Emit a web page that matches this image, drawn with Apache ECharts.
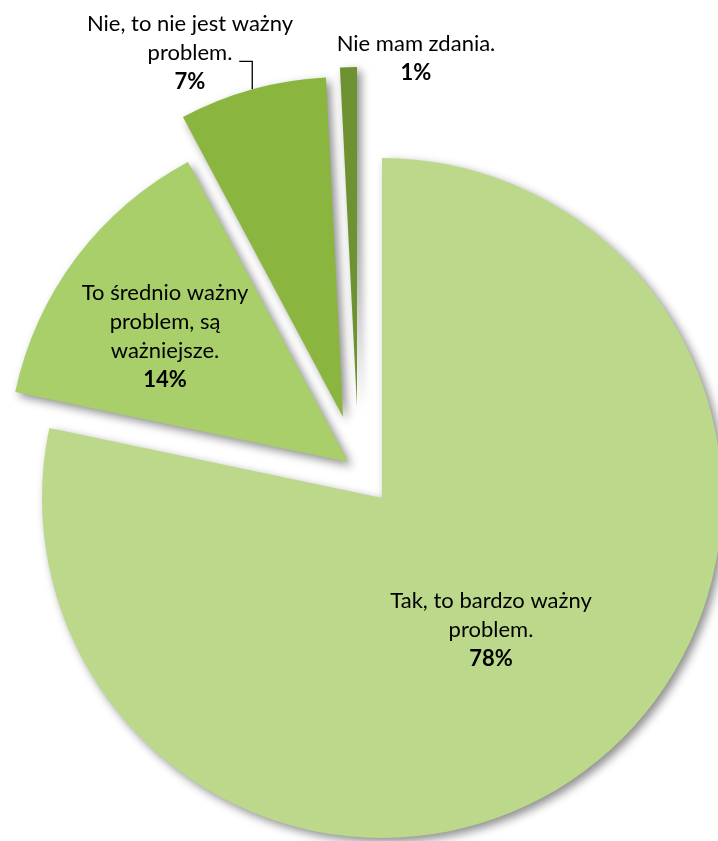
<!DOCTYPE html>
<html><head><meta charset="utf-8">
<script src="https://cdn.jsdelivr.net/npm/echarts@6/dist/echarts.min.js"></script>
<style>html,body{margin:0;padding:0;background:#fff}#c{width:718px;height:841px}</style>
</head><body><div id="c"></div>
<script>
// ---- data ----
const categories = ['Tak, to bardzo ważny\nproblem.', 'To średnio ważny\nproblem, są\nważniejsze.', 'Nie, to nie jest ważny\nproblem.', 'Nie mam zdania.'];
const values = [78.3, 13.9, 7.0, 0.8];

// ---- style / layout ----
const colors = ['#BCD88A', '#A8CF6A', '#8AB53E', '#6E9231'];
const sliceCenters = [[382, 498], [348, 462], [343, 417], [357, 407]];
const labelPos = [[491, 630], [165, 336], [190, 53], [416, 58]];
const R = 340;
const FONT = 'Lato';
const FS = 22;
const LH = 29;

const chart = echarts.init(document.getElementById('c'), null, {renderer: 'canvas'});

function makeSeries(idx) {
  const data = categories.map((name, j) => {
    if (j !== idx) {
      return {name, value: values[j], itemStyle: {color: 'rgba(0,0,0,0)'}, label: {show: false}, labelLine: {show: false}};
    }
    return {
      name, value: values[j],
      itemStyle: {color: colors[j], shadowBlur: 10, shadowOffsetX: 4, shadowOffsetY: 4, shadowColor: 'rgba(0,0,0,0.45)'},
      label: {show: true},
      labelLine: {show: idx === 2, lineStyle: {color: '#000', width: 1.3}}
    };
  });
  const lp = labelPos[idx];
  return {
    type: 'pie',
    center: sliceCenters[idx],
    radius: [0, R],
    startAngle: 90,
    clockwise: true,
    silent: true,
    animation: false,
    avoidLabelOverlap: false,
    emphasis: {disabled: true},
    itemStyle: {borderWidth: 0},
    label: {
      position: idx === 2 ? 'outside' : 'inside',
      fontFamily: FONT, fontSize: FS, lineHeight: LH, color: '#000',
      formatter: p => p.name + '\n{p|' + Math.round(p.percent) + '%}',
      rich: {
        p: {fontFamily: FONT, fontSize: FS, lineHeight: LH, fontWeight: 'bold', color: '#000'}
      }
    },
    labelLine: {show: false},
    labelLayout: function (params) {
      const out = {x: lp[0], y: lp[1], align: 'center', verticalAlign: 'middle'};
      if (idx === 2 && params.labelLinePoints) {
        const p0 = params.labelLinePoints[0];
        out.labelLinePoints = [[p0[0], p0[1]], [p0[0], p0[1] - 28], [p0[0] - 13, p0[1] - 28]];
      }
      return out;
    },
    data
  };
}

chart.setOption({
  backgroundColor: '#fff',
  animation: false,
  series: [0, 1, 2, 3].map(makeSeries)
});
</script>
</body></html>
